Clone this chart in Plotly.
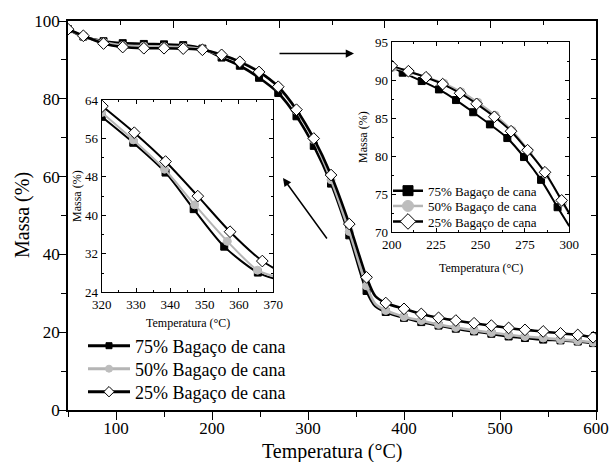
import plotly.graph_objects as go

# ---------------- data ----------------
series_names = ["75% Bagaço de cana", "50% Bagaço de cana", "25% Bagaço de cana"]

# main plot: marker positions
main_T = [50, 66, 87, 107, 129, 150, 170, 190, 210, 229, 249, 269, 288, 306, 324,
          343, 361, 381, 400, 418, 436, 454, 473, 491, 509, 526, 545, 563, 581, 597]
main_75 = [97.9, 96.0, 94.8, 94.3, 94.1, 94.0, 93.8, 92.9, 90.6, 88.5, 85.4, 81.5, 75.5, 67.9, 58.2,
           44.9, 30.6, 25.2, 23.7, 22.6, 21.7, 20.9, 20.2, 19.6, 18.9, 18.5, 18.1, 17.9, 17.6, 17.2]
main_50 = [97.9, 96.1, 94.5, 93.7, 93.5, 93.4, 93.3, 92.7, 91.2, 89.6, 87.0, 83.1, 77.0, 69.5, 59.2,
           45.9, 31.9, 25.6, 24.0, 23.0, 22.0, 21.2, 20.5, 19.9, 19.3, 18.9, 18.5, 18.1, 17.8, 17.4]
main_25 = [97.9, 96.2, 94.2, 93.3, 93.0, 93.0, 92.9, 92.6, 91.3, 89.5, 86.9, 83.1, 77.2, 69.8, 60.4,
           47.8, 34.1, 27.5, 26.0, 24.7, 23.7, 23.0, 22.3, 21.7, 21.1, 20.6, 20.2, 19.7, 19.3, 18.7]
# extra points on the curves (knee and end), no markers
main_extra_T = [370, 600]
main_extra_75 = [26.7, 17.1]
main_extra_50 = [27.3, 17.3]
main_extra_25 = [29.3, 18.5]

# inset 1 (320-370 °C)
in1_T75 = [320, 329.2, 338.6, 346.8, 355.7, 365.5]
in1_75 = [60.5, 55.1, 48.9, 41.3, 33.5, 28.1]
in1_T50 = [320, 329.2, 338.3, 347.1, 356.6, 365.4]
in1_50 = [61.4, 55.7, 49.6, 42.2, 34.6, 28.6]
in1_T25 = [320.2, 329.5, 338.6, 348.0, 357.4, 366.8]
in1_25 = [62.7, 57.2, 51.2, 44.0, 36.6, 30.5]
in1_end_T = 370
in1_end = [26.9, 27.4, 29.1]

# inset 2 (200-300 °C)
in2_T75 = [206.2, 216.9, 226.6, 236.2, 245.9, 255.3, 265.1, 274.5, 284.1, 293.4]
in2_75 = [91.0, 89.9, 88.8, 87.4, 85.8, 84.2, 82.4, 79.9, 76.9, 73.3]
in2_T50 = [200.5, 210, 219.8, 229.5, 239, 248.5, 258.3, 267.8, 277.2, 286.8, 296.3]
in2_50 = [91.7, 91.1, 90.4, 89.6, 88.5, 87.1, 85.4, 83.4, 80.7, 77.6, 73.9]
in2_T25 = [200, 209.4, 219.3, 228.7, 238.5, 247.8, 257.8, 267.2, 276.5, 286.3, 295.7]
in2_25 = [91.9, 91.2, 90.4, 89.5, 88.3, 86.9, 85.2, 83.3, 80.8, 77.9, 74.2]
in2_start = {0: (200, 91.8)}
in2_end_T = 300
in2_end = [70.8, 72.3, 72.5]

# ---------------- styles ----------------
FONT = "Liberation Serif"
line_colors = ["#000000", "#b5b5b5", "#000000"]
mk_sym = ["square", "circle", "diamond"]
mk_fill = ["#000000", "#bdbdbd", "#ffffff"]
mk_line = ["#000000", "#bdbdbd", "#000000"]

W, H = 609, 462
ML, MR, MT, MB = 68, 13, 21, 52
PW, PH = W - ML - MR, H - MT - MB


def px(x):
    return (x - ML) / PW


def py(y):
    return (H - MB - y) / PH


fig = go.Figure()


def merged(t1, v1, t2, v2):
    pts = sorted(zip(list(t1) + list(t2), list(v1) + list(v2)))
    return [p[0] for p in pts], [p[1] for p in pts]


def add_series(i, T, V, lineT, lineV, xa, ya, lw, msize):
    fig.add_trace(go.Scatter(x=lineT, y=lineV, mode="lines", xaxis=xa, yaxis=ya,
                             line=dict(color=line_colors[i], width=lw, shape="spline", smoothing=0.8),
                             showlegend=False, hoverinfo="skip"))
    fig.add_trace(go.Scatter(x=T, y=V, mode="markers", xaxis=xa, yaxis=ya,
                             marker=dict(symbol=mk_sym[i], size=msize[i], color=mk_fill[i],
                                         line=dict(color=mk_line[i], width=1)),
                             showlegend=False, hoverinfo="skip"))


# main series
main_vals = [main_75, main_50, main_25]
main_extra = [main_extra_75, main_extra_50, main_extra_25]
for i in range(3):
    lt, lv = merged(main_T, main_vals[i], main_extra_T, main_extra[i])
    add_series(i, main_T, main_vals[i], lt, lv, "x", "y", 2.6, [7, 8, 9])

# inset 1
in1_Ts = [in1_T75, in1_T50, in1_T25]
in1_vals = [in1_75, in1_50, in1_25]
for i in range(3):
    lt, lv = merged(in1_Ts[i], in1_vals[i], [in1_end_T], [in1_end[i]])
    add_series(i, in1_Ts[i], in1_vals[i], lt, lv, "x2", "y2", 2.0, [7, 8, 9])

# inset 2
in2_Ts = [in2_T75, in2_T50, in2_T25]
in2_vals = [in2_75, in2_50, in2_25]
for i in range(3):
    extraT, extraV = [in2_end_T], [in2_end[i]]
    if i in in2_start:
        extraT.append(in2_start[i][0])
        extraV.append(in2_start[i][1])
    lt, lv = merged(in2_Ts[i], in2_vals[i], extraT, extraV)
    add_series(i, in2_Ts[i], in2_vals[i], lt, lv, "x3", "y3", 2.0, [7, 8, 9])

# legend entries: one legend per row so rows can be spaced like the original
main_leg_ids = ["legend", "legend2", "legend3"]
in_leg_ids = ["legend4", "legend5", "legend6"]
for i in range(3):
    fig.add_trace(go.Scatter(x=[None], y=[None], mode="lines+markers", name=series_names[i],
                             line=dict(color=line_colors[i], width=3),
                             marker=dict(symbol=mk_sym[i], size=[6, 7, 8][i], color=mk_fill[i],
                                         line=dict(color=mk_line[i], width=1)),
                             legend=main_leg_ids[i]))
for i in range(3):
    fig.add_trace(go.Scatter(x=[None], y=[None], mode="lines+markers", name=series_names[i],
                             line=dict(color=line_colors[i], width=2.5),
                             marker=dict(symbol=mk_sym[i], size=[10, 11, 12][i], color=mk_fill[i],
                                         line=dict(color=mk_line[i], width=1)),
                             legend=in_leg_ids[i]))

# dummy traces for the extra tick axes
fig.add_trace(go.Scatter(x=[None], y=[None], xaxis="x4", yaxis="y", showlegend=False))
fig.add_trace(go.Scatter(x=[None], y=[None], xaxis="x", yaxis="y4", showlegend=False))

tickfont_main = dict(family=FONT, size=17, color="black")
tickfont_in = dict(family=FONT, size=13, color="black")

inset_common = dict(showline=True, linecolor="black", linewidth=1.2, mirror="allticks",
                    ticks="inside", ticklen=4, tickwidth=1, tickcolor="black",
                    showgrid=False, zeroline=False, tickfont=tickfont_in, automargin=False)

in1_x = (px(101.7), px(273.3))
in1_y = (py(292.3), py(100))
in2_x = (px(391.7), px(569.3))
in2_y = (py(232.3), py(42.3))

main_rows = [346, 369, 392]
in_rows = [190.7, 206, 221.5]
legends = {}
for i in range(3):
    legends[main_leg_ids[i]] = dict(x=px(83), y=py(main_rows[i]), xanchor="left", yanchor="middle",
                                    bgcolor="rgba(0,0,0,0)", borderwidth=0, itemwidth=42,
                                    font=dict(family=FONT, size=18, color="black"))
    legends[in_leg_ids[i]] = dict(x=px(388), y=py(in_rows[i]), xanchor="left", yanchor="middle",
                                  bgcolor="rgba(0,0,0,0)", borderwidth=0, itemwidth=30,
                                  font=dict(family=FONT, size=13, color="black"))

fig.update_layout(
    width=W, height=H,
    margin=dict(l=ML, r=MR, t=MT, b=MB, autoexpand=False),
    paper_bgcolor="white", plot_bgcolor="white",
    font=dict(family=FONT, color="black"),
    xaxis=dict(domain=[0, 1], range=[50, 600], tick0=0, dtick=100, ticks="outside", ticklen=8,
               tickwidth=1.3, tickcolor="black", showline=True, linecolor="black", linewidth=1.6,
               mirror=True, showgrid=False, zeroline=False, tickfont=tickfont_main, automargin=False,
               ticklabelstandoff=-6,
               minor=dict(dtick=50, tick0=0, ticks="outside", ticklen=5, tickwidth=1.3, tickcolor="black"),
               anchor="y"),
    yaxis=dict(domain=[0, 1], range=[0, 100], dtick=20, ticks="outside", ticklen=8,
               tickwidth=1.3, tickcolor="black", showline=True, linecolor="black", linewidth=1.6,
               mirror=True, showgrid=False, zeroline=False, tickfont=tickfont_main, automargin=False,
               ticklabelstandoff=-5,
               minor=dict(dtick=10, ticks="outside", ticklen=5, tickwidth=1.3, tickcolor="black"),
               anchor="x"),
    xaxis4=dict(overlaying="x", side="top", anchor="y", range=[0, 10], dtick=2, ticks="inside",
                ticklen=7, tickwidth=1.3, tickcolor="black", showticklabels=False, showgrid=False,
                zeroline=False, showline=False, automargin=False,
                minor=dict(dtick=1, ticks="inside", ticklen=4, tickwidth=1.3, tickcolor="black")),
    yaxis4=dict(overlaying="y", side="right", anchor="x", range=[0, 100], dtick=10, ticks="inside",
                ticklen=5, tickwidth=1.3, tickcolor="black", showticklabels=False, showgrid=False,
                zeroline=False, showline=False, automargin=False),
    xaxis2=dict(domain=list(in1_x), anchor="y2", range=[320, 370], dtick=10,
                minor=dict(dtick=5, ticks="inside", ticklen=2, tickcolor="black"), **inset_common),
    yaxis2=dict(domain=list(in1_y), anchor="x2", range=[24, 64], dtick=8,
                minor=dict(dtick=4, ticks="inside", ticklen=2, tickcolor="black"), **inset_common),
    xaxis3=dict(domain=list(in2_x), anchor="y3", range=[200, 300], dtick=25,
                minor=dict(dtick=12.5, ticks="inside", ticklen=2, tickcolor="black"), **inset_common),
    yaxis3=dict(domain=list(in2_y), anchor="x3", range=[70, 95], dtick=5,
                minor=dict(dtick=2.5, ticks="inside", ticklen=2, tickcolor="black"), **inset_common),
    showlegend=True,
    **legends,
)

annotations = [
    dict(text="Temperatura (°C)", x=px(332), y=py(451), xref="paper", yref="paper",
         showarrow=False, font=dict(family=FONT, size=20), xanchor="center", yanchor="middle"),
    dict(text="Massa (%)", x=px(22), y=py(215), xref="paper", yref="paper", textangle=-90,
         showarrow=False, font=dict(family=FONT, size=20), xanchor="center", yanchor="middle"),
    dict(text="Temperatura (°C)", x=px(187.5), y=py(323), xref="paper", yref="paper",
         showarrow=False, font=dict(family=FONT, size=12), xanchor="center", yanchor="middle"),
    dict(text="Massa (%)", x=px(77), y=py(196), xref="paper", yref="paper", textangle=-90,
         showarrow=False, font=dict(family=FONT, size=12), xanchor="center", yanchor="middle"),
    dict(text="Temperatura (°C)", x=px(480.5), y=py(268), xref="paper", yref="paper",
         showarrow=False, font=dict(family=FONT, size=12), xanchor="center", yanchor="middle"),
    dict(text="Massa (%)", x=px(363), y=py(137), xref="paper", yref="paper", textangle=-90,
         showarrow=False, font=dict(family=FONT, size=12), xanchor="center", yanchor="middle"),
    # arrows
    dict(text="", x=px(354), y=py(53.5), xref="paper", yref="paper", showarrow=True,
         ax=-76, ay=0, arrowhead=2, arrowsize=1.1, arrowwidth=1.5, arrowcolor="black"),
    dict(text="", x=px(283), y=py(178), xref="paper", yref="paper", showarrow=True,
         ax=45, ay=62, arrowhead=2, arrowsize=1.1, arrowwidth=1.5, arrowcolor="black"),
]
fig.update_layout(annotations=annotations)

fig.write_html("out.html", config={"displayModeBar": False},
               post_script="document.body.style.margin='0';document.body.style.overflow='hidden';")
